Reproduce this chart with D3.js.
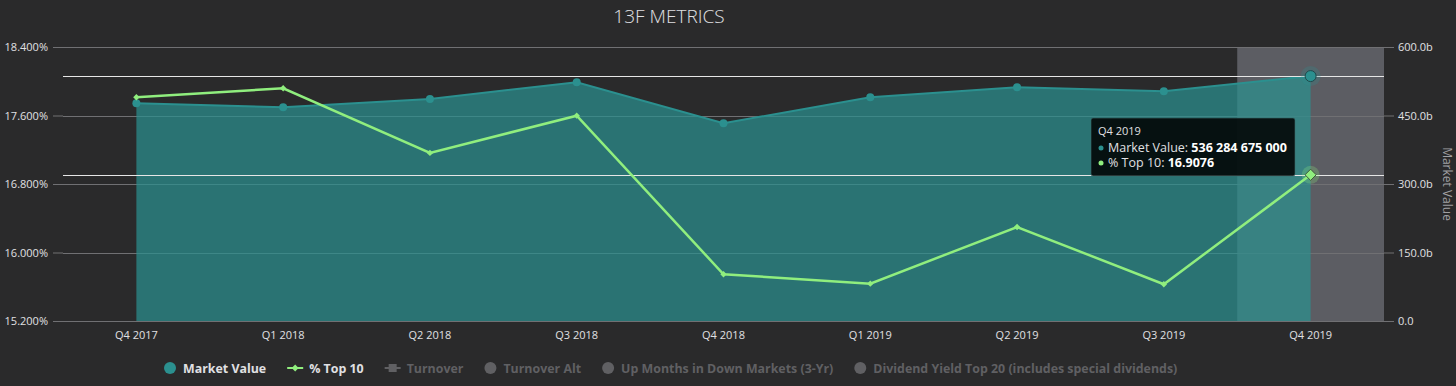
<!DOCTYPE html>
<html>
<head>
<meta charset="utf-8">
<script src="https://cdn.jsdelivr.net/npm/d3@7"></script>
<style>
  html, body { margin: 0; padding: 0; background: #2a2a2b; }
  svg { display: block; font-family: "Open Sans", "Noto Sans", sans-serif; }
</style>
</head>
<body>
<svg id="chart" width="1456" height="386"></svg>
<script>
// data
const categories = ["Q4 2017", "Q1 2018", "Q2 2018", "Q3 2018", "Q4 2018", "Q1 2019", "Q2 2019", "Q3 2019", "Q4 2019"];
const marketValue = [477, 468, 486, 523, 433, 490, 512, 503, 536.284675]; // billions
const pctTop10 = [17.813, 17.918, 17.163, 17.598, 15.746, 15.636, 16.298, 15.629, 16.9076];
const leftTicks = [15.2, 16.0, 16.8, 17.6, 18.4];
const rightTicks = [0, 150, 300, 450, 600];
const legendItems = [
  { name: "Market Value", symbol: "circle", color: "#2b908f", visible: true },
  { name: "% Top 10", symbol: "line-diamond", color: "#90ee7e", visible: true },
  { name: "Turnover", symbol: "line-square", color: "#606063", visible: false },
  { name: "Turnover Alt", symbol: "circle", color: "#606063", visible: false },
  { name: "Up Months in Down Markets (3-Yr)", symbol: "circle", color: "#606063", visible: false },
  { name: "Dividend Yield Top 20 (includes special dividends)", symbol: "circle", color: "#606063", visible: false }
];
const hoverIndex = 8;

const svg = d3.select("#chart");

const plot = { left: 63, right: 1384, top: 47, bottom: 321 };

const x = d3.scaleBand()
  .domain(categories)
  .range([plot.left, plot.right]);

const yLeft = d3.scaleLinear()
  .domain([15.2, 18.4])
  .range([plot.bottom, plot.top]);

const yRight = d3.scaleLinear()
  .domain([0, 600])
  .range([plot.bottom, plot.top]);

const cx = (c) => x(c) + x.bandwidth() / 2;

// title
svg.append("text")
  .attr("x", 669)
  .attr("y", 23)
  .attr("text-anchor", "middle")
  .attr("fill", "#e0e0e3")
  .attr("font-size", 19)
  .attr("font-weight", 300)
  .text("13F METRICS");

// hover band
svg.append("rect")
  .attr("x", x(categories[hoverIndex]))
  .attr("y", plot.top)
  .attr("width", x.bandwidth())
  .attr("height", plot.bottom - plot.top)
  .attr("fill", "#5c5d63");

// left axis (with grid)
const axisLeft = d3.axisLeft(yLeft)
  .tickValues(leftTicks)
  .tickSize(10)
  .tickPadding(5)
  .tickFormat((d) => d3.format(".3f")(d) + "%");

const gLeft = svg.append("g")
  .attr("transform", `translate(${plot.left},0)`)
  .call(axisLeft);

gLeft.select(".domain").remove();
gLeft.selectAll(".tick line").attr("stroke", "#707073");
gLeft.selectAll(".tick text")
  .attr("fill", "#e0e0e3")
  .attr("font-size", 11)
  .attr("font-family", "Open Sans");

// right axis
const axisRight = d3.axisRight(yRight)
  .tickValues(rightTicks)
  .tickSize(10)
  .tickPadding(4)
  .tickFormat((d) => d === 0 ? "0.0" : d3.format(".1f")(d) + "b");

const gRight = svg.append("g")
  .attr("transform", `translate(${plot.right},0)`)
  .call(axisRight);

gRight.select(".domain").remove();
gRight.selectAll(".tick line").attr("stroke", "#707073");
gRight.selectAll(".tick text")
  .attr("fill", "#e0e0e3")
  .attr("font-size", 11)
  .attr("font-family", "Open Sans");

// grid lines
svg.append("g")
  .selectAll("line")
  .data(rightTicks)
  .join("line")
  .attr("x1", plot.left)
  .attr("x2", plot.right)
  .attr("y1", (d) => Math.round(yRight(d)) + 0.5)
  .attr("y2", (d) => Math.round(yRight(d)) + 0.5)
  .attr("stroke", "#707073");

// right axis title
svg.append("text")
  .attr("transform", `translate(1443,${(plot.top + plot.bottom) / 2}) rotate(90)`)
  .attr("text-anchor", "middle")
  .attr("fill", "#a0a0a3")
  .attr("font-size", 12)
  .text("Market Value");

// x axis
const axisBottom = d3.axisBottom(x)
  .tickSize(0)
  .tickPadding(10);

const gBottom = svg.append("g")
  .attr("transform", `translate(0,${plot.bottom})`)
  .call(axisBottom);

gBottom.select(".domain").remove();
gBottom.selectAll(".tick text")
  .attr("fill", "#e0e0e3")
  .attr("font-size", 11)
  .attr("font-family", "Open Sans");

// market value area
const area = d3.area()
  .x((d, i) => cx(categories[i]))
  .y0(yRight(0))
  .y1((d) => yRight(d));

const line = d3.line()
  .x((d, i) => cx(categories[i]))
  .y((d) => yRight(d));

svg.append("path")
  .datum(marketValue)
  .attr("d", area)
  .attr("fill", "#2b908f")
  .attr("fill-opacity", 0.72);

svg.append("path")
  .datum(marketValue)
  .attr("d", line)
  .attr("fill", "none")
  .attr("stroke", "#2b908f")
  .attr("stroke-width", 2);

svg.append("g")
  .selectAll("circle")
  .data(marketValue)
  .join("circle")
  .filter((d, i) => i !== hoverIndex)
  .attr("cx", (d, i) => cx(categories[i]))
  .attr("cy", (d) => yRight(d))
  .attr("r", 4)
  .attr("fill", "#2b908f");

// crosshair lines
[yRight(marketValue[hoverIndex]), yLeft(pctTop10[hoverIndex])].forEach((yy) => {
  svg.append("line")
    .attr("x1", plot.left)
    .attr("x2", plot.right)
    .attr("y1", Math.round(yy) + 0.5)
    .attr("y2", Math.round(yy) + 0.5)
    .attr("stroke", "#e6e6e6")
    .attr("stroke-width", 1);
});

// % top 10 line
const pctLine = d3.line()
  .x((d, i) => cx(categories[i]))
  .y((d) => yLeft(d));

svg.append("path")
  .datum(pctTop10)
  .attr("d", pctLine)
  .attr("fill", "none")
  .attr("stroke", "#90ee7e")
  .attr("stroke-width", 2.5);

const diamond = d3.symbol().type(d3.symbolDiamond2);

svg.append("g")
  .selectAll("path")
  .data(pctTop10)
  .join("path")
  .filter((d, i) => i !== hoverIndex)
  .attr("transform", (d, i) => `translate(${cx(categories[i])},${yLeft(d)})`)
  .attr("d", diamond.size(26)())
  .attr("fill", "#90ee7e");

// hovered markers
const hx = cx(categories[hoverIndex]);
const hyMV = yRight(marketValue[hoverIndex]);
const hyPct = yLeft(pctTop10[hoverIndex]);

svg.append("circle")
  .attr("cx", hx).attr("cy", hyMV).attr("r", 10)
  .attr("fill", "#2b908f").attr("fill-opacity", 0.25);
svg.append("circle")
  .attr("cx", hx).attr("cy", hyMV).attr("r", 5.5)
  .attr("fill", "#2b908f").attr("stroke", "#1f4a4c").attr("stroke-width", 1);

svg.append("circle")
  .attr("cx", hx).attr("cy", hyPct).attr("r", 9)
  .attr("fill", "#90ee7e").attr("fill-opacity", 0.25);
svg.append("path")
  .attr("transform", `translate(${hx},${hyPct})`)
  .attr("d", diamond.size(80)())
  .attr("fill", "#90ee7e").attr("stroke", "#3f5a3a").attr("stroke-width", 1);

// tooltip
const tip = svg.append("g").attr("transform", "translate(1091,118)");
tip.append("rect")
  .attr("width", 204)
  .attr("height", 58)
  .attr("rx", 2)
  .attr("fill", "rgba(0,0,0,0.85)")
  .attr("stroke", "rgba(60,110,110,0.6)");

tip.append("text")
  .attr("x", 7).attr("y", 17)
  .attr("fill", "#e0e0e3").attr("font-size", 11)
  .text(categories[hoverIndex]);

const fmtSpace = (v) => d3.format(",.0f")(v).replace(/,/g, " ");

const tipRows = [
  { color: "#2b908f", label: "Market Value: ", value: fmtSpace(marketValue[hoverIndex] * 1e9) },
  { color: "#90ee7e", label: "% Top 10: ", value: String(pctTop10[hoverIndex]) }
];

tipRows.forEach((r, i) => {
  const yy = 34 + i * 15;
  tip.append("circle")
    .attr("cx", 10).attr("cy", yy - 4).attr("r", 2.5)
    .attr("fill", r.color);
  const t = tip.append("text")
    .attr("x", 17).attr("y", yy)
    .attr("fill", "#e0e0e3").attr("font-size", 12.5);
  t.append("tspan").text(r.label);
  t.append("tspan").attr("font-weight", 700).attr("fill", "#ffffff").text(r.value);
});

// legend
const legend = svg.append("g").attr("transform", "translate(0,368)");
let lx = 164;
legendItems.forEach((item) => {
  const g = legend.append("g").attr("transform", `translate(${lx},0)`);
  let symW;
  if (item.symbol === "circle") {
    g.append("circle").attr("cx", 6).attr("cy", 0).attr("r", 6).attr("fill", item.color);
    symW = 19;
  } else if (item.symbol === "line-diamond") {
    g.append("line").attr("x1", 0).attr("x2", 16).attr("y1", 0).attr("y2", 0)
      .attr("stroke", item.color).attr("stroke-width", 2);
    g.append("path").attr("transform", "translate(8,0)")
      .attr("d", diamond.size(30)()).attr("fill", item.color);
    symW = 22;
  } else {
    g.append("line").attr("x1", 0).attr("x2", 16).attr("y1", 0).attr("y2", 0)
      .attr("stroke", item.color).attr("stroke-width", 2);
    g.append("rect").attr("x", 4).attr("y", -4).attr("width", 8).attr("height", 8)
      .attr("fill", item.color);
    symW = 22;
  }
  const t = g.append("text")
    .attr("x", symW).attr("y", 4.5)
    .attr("fill", item.visible ? "#e0e0e3" : "#606063")
    .attr("font-size", 12.4)
    .attr("font-weight", 700)
    .text(item.name);
  lx += symW + t.node().getComputedTextLength() + 21;
});
</script>
</body>
</html>
